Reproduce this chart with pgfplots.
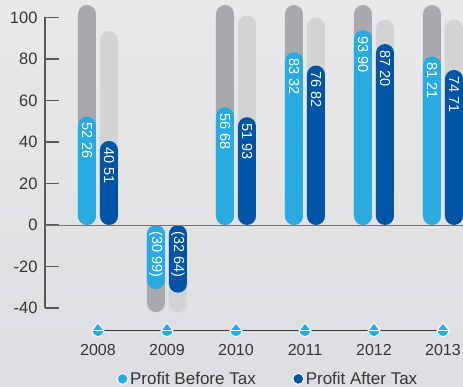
\documentclass[border=0pt]{standalone}
\usepackage{fontspec}
\setmainfont{Liberation Sans}
\usepackage{pgfplots}
\pgfplotsset{compat=1.18}
\definecolor{lblue}{HTML}{29ABE2}
\definecolor{dblue}{HTML}{0054A6}
\definecolor{gdark}{HTML}{A7A9AC}
\definecolor{glight}{HTML}{D1D3D5}
\definecolor{txt}{HTML}{363636}
\pgfdeclareplotmark{drop}{%
 \pgfpathmoveto{\pgfqpoint{0pt}{1.25\pgfplotmarksize}}%
 \pgfpathlineto{\pgfqpoint{\pgfplotmarksize}{0pt}}%
 \pgfpatharc{0}{-180}{\pgfplotmarksize}%
 \pgfpathclose
 \pgfusepathqfillstroke
 \pgfpathmoveto{\pgfqpoint{-\pgfplotmarksize}{0pt}}%
 \pgfpathlineto{\pgfqpoint{\pgfplotmarksize}{0pt}}%
 \pgfusepathqstroke}
\begin{document}
\begin{tikzpicture}
\shade[top color={rgb,255:red,233;green,233;blue,235}, bottom color={rgb,255:red,221;green,222;blue,225}] (0,0) rectangle (463pt,387pt);
\begin{axis}[
  scale only axis, width=418pt, height=290.5pt,
  at={(45pt,79pt)}, anchor=south west,
  xmin=-0.768, xmax=5.29, ymin=-40, ymax=100,
  clip=false,
  axis line style={draw=none},
  ytick={-40,-20,0,20,40,60,80,100},
  ytick pos=left, tick align=inside, major tick length=14pt,
  ytick style={line width=1.2pt, color=black!65},
  yticklabel style={font=\fontsize{16.5}{16.5}\selectfont, text=txt, xshift=-4pt},
  xtick={0,1,2,3,4,5}, xticklabels={2008,2009,2010,2011,2012,2013},
  xtick style={draw=none},
  xticklabel style={font=\fontsize{16}{16}\selectfont, text=txt, yshift=-33pt},
  /pgf/number format/assume math mode=true,
  legend style={at={(axis description cs:0.172,-0.244)}, anchor=west, draw=none, fill=none,
    font=\fontsize{17}{17}\selectfont, text=txt, inner sep=0pt,
    /tikz/column 2/.style={column sep=35pt}},
  legend columns=2, legend cell align=left,
]
% gray background pills
\addplot[ybar, bar width=18pt, bar shift=-11pt, fill=gdark, draw=none, rounded corners=9pt, forget plot]
  coordinates {(0,106) (1,-42) (2,106) (3,106) (4,106) (5,106)};
\addplot[ybar, bar width=18pt, bar shift=11pt, fill=glight, draw=none, rounded corners=9pt, forget plot]
  coordinates {(0,93.5) (1,-42) (2,101) (3,100) (4,99) (5,99)};
% values
\addplot[ybar, bar width=18pt, bar shift=-11pt, fill=lblue, draw=none, rounded corners=9pt, forget plot]
  coordinates {(0,52.26) (1,-30.99) (2,56.68) (3,83.32) (4,93.90) (5,81.21)};
\addplot[ybar, bar width=18pt, bar shift=11pt, fill=dblue, draw=none, rounded corners=9pt, forget plot]
  coordinates {(0,40.51) (1,-32.64) (2,51.93) (3,76.82) (4,87.20) (5,74.71)};
% timeline
\addplot[no marks, color=txt, line width=0.9pt, forget plot]
  coordinates {(0,-50.8) (5,-50.8)};
\addplot[only marks, mark=drop, mark size=6pt, mark options={fill=lblue, draw=white, line width=0.9pt}, forget plot]
  coordinates {(0,-50.8) (1,-50.8) (2,-50.8) (3,-50.8) (4,-50.8) (5,-50.8)};
\addlegendimage{only marks, mark=*, mark size=5.5pt, mark options={fill=lblue, draw=white, line width=1pt}}
\addlegendentry{Profit Before Tax}
\addlegendimage{only marks, mark=*, mark size=5.5pt, mark options={fill=dblue, draw=white, line width=1pt}}
\addlegendentry{Profit After Tax}
% axis lines
\draw[black!65, line width=1.2pt] (rel axis cs:0,0) -- (rel axis cs:0,1);
\draw[black!55, line width=0.8pt] (axis cs:-0.768,0) -- (axis cs:5.29,0);
% value labels
\tikzset{vl/.style={rotate=-90, anchor=west, inner sep=1pt, text=white, font=\fontsize{14.5}{14.5}\selectfont}}
\node[vl] at ([xshift=-11pt,yshift=-5pt]axis cs:0,52.26) {52 26};
\node[vl] at ([xshift=11pt,yshift=-5pt]axis cs:0,40.51) {40 51};
\node[vl] at ([xshift=-11pt,yshift=-5pt]axis cs:1,0) {(30 99)};
\node[vl] at ([xshift=11pt,yshift=-5pt]axis cs:1,0) {(32 64)};
\node[vl] at ([xshift=-11pt,yshift=-5pt]axis cs:2,56.68) {56 68};
\node[vl] at ([xshift=11pt,yshift=-5pt]axis cs:2,51.93) {51 93};
\node[vl] at ([xshift=-11pt,yshift=-5pt]axis cs:3,83.32) {83 32};
\node[vl] at ([xshift=11pt,yshift=-5pt]axis cs:3,76.82) {76 82};
\node[vl] at ([xshift=-11pt,yshift=-5pt]axis cs:4,93.90) {93 90};
\node[vl] at ([xshift=11pt,yshift=-5pt]axis cs:4,87.20) {87 20};
\node[vl] at ([xshift=-11pt,yshift=-5pt]axis cs:5,81.21) {81 21};
\node[vl] at ([xshift=11pt,yshift=-5pt]axis cs:5,74.71) {74 71};
\end{axis}
\pgfresetboundingbox
\path[use as bounding box] (0,0) rectangle (463pt,387pt);
\end{tikzpicture}
\end{document}
